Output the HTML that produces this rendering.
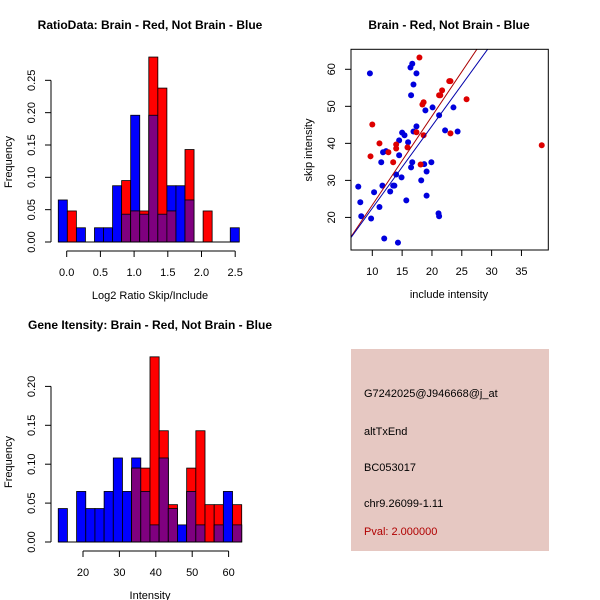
<!DOCTYPE html>
<html><head><meta charset="utf-8"><style>
body{margin:0;background:#fff}
svg{display:block;font-family:"Liberation Sans",sans-serif}
</style></head><body>
<svg id="s" width="600" height="600" viewBox="0 0 600 600">
<rect width="600" height="600" fill="#fff"/>
<rect x="351" y="349" width="198" height="202" fill="#e6c8c2"/>
<g font-size="11" fill="#000">
<text x="364" y="397">G7242025@J946668@j_at</text>
<text x="364" y="435">altTxEnd</text>
<text x="364" y="471">BC053017</text>
<text x="364" y="507">chr9.26099-1.11</text>
<text x="364" y="535" fill="#b00000">Pval: 2.000000</text>
</g>
</svg>
<script>
// Histogram 1: ratio data
const h1Start=-0.125, h1Width=0.1343;
const h1Blue=[0.065,0,0.022,0,0.022,0.022,0.087,0.043,0.196,0.043,0.196,0.043,0.087,0.087,0.065,0,0,0,0,0.022];
const h1Red=[0,0.048,0,0,0,0,0,0.095,0.048,0.048,0.286,0.238,0.048,0,0.143,0,0.048,0,0,0];
const h1XTicks=[0,0.5,1,1.5,2,2.5];
const h1XLabels=["0.0","0.5","1.0","1.5","2.0","2.5"];
const h1YTicks=[0,0.05,0.1,0.15,0.2,0.25];
const h1YLabels=["0.00","0.05","0.10","0.15","0.20","0.25"];
// Histogram 2: gene intensity
const h2Start=13.2, h2Width=2.52;
const h2Blue=[0.043,0,0.065,0.043,0.043,0.065,0.108,0.065,0.108,0.065,0.022,0.108,0.043,0.022,0.065,0.022,0,0.022,0.065,0.022];
const h2Red=[0,0,0,0,0,0,0,0,0.095,0.095,0.238,0.143,0.048,0,0.095,0.143,0.048,0.048,0,0.048];
const h2XTicks=[20,30,40,50,60];
const h2XLabels=["20","30","40","50","60"];
const h2YTicks=[0,0.05,0.1,0.15,0.2];
const h2YLabels=["0.00","0.05","0.10","0.15","0.20"];
// Scatter
const blueX=[7.65,7.99,8.15,9.6,9.8,10.3,11.2,11.5,11.7,11.8,12.3,12.0,13.0,13.5,13.7,14.0,14.3,14.5,14.5,14.9,15.0,15.4,15.7,16.0,16.4,16.7,16.5,16.5,16.7,16.9,16.9,17.4,17.4,18.2,18.7,18.9,19.1,19.1,19.9,20.1,21.1,21.2,21.2,22.2,23.6,24.3];
const blueY=[28.3,24.1,20.3,58.9,19.7,26.8,22.8,34.9,28.6,37.6,37.9,14.3,27.0,28.6,28.6,31.6,13.2,36.8,40.8,30.8,42.9,42.2,24.6,40.3,60.5,61.5,53.0,33.5,34.9,55.9,43.2,58.9,44.6,30.0,34.4,48.9,32.4,25.9,34.9,49.7,21.1,20.3,47.6,43.5,49.7,43.2];
const redX=[9.7,10.0,11.2,12.7,13.5,14.0,14.0,15.9,17.4,17.9,18.1,18.4,18.6,18.6,21.2,21.4,21.7,22.9,23.1,23.1,25.8,38.4];
const redY=[36.5,45.1,40.0,37.6,34.9,39.7,38.6,38.9,43.0,63.2,34.3,50.5,51.1,42.2,53.0,53.0,54.3,56.8,56.8,42.7,51.9,39.5];
const redLine=[-0.66,2.4];   // intercept, slope
const blueLine=[0.29,2.22];
const scXTicks=[10,15,20,25,30,35];
const scYTicks=[20,30,40,50,60];

const NS="http://www.w3.org/2000/svg";
const svg=document.getElementById('s');
function el(tag,attrs,parent){const e=document.createElementNS(NS,tag);for(const k in attrs)e.setAttribute(k,attrs[k]);(parent||svg).appendChild(e);return e;}
function txt(x,y,s,size,anchor,rot,parent,weight){const t=el('text',{x:x,y:y,'font-size':size,'text-anchor':anchor||'middle'},parent);if(rot)t.setAttribute('transform','rotate(-90 '+x+' '+y+')');if(weight)t.setAttribute('font-weight',weight);t.textContent=s;return t;}

function hist(o){
  const g=el('g',{});
  
  
  const sx=v=>o.x0+(v-o.v0)*o.kx, sy=v=>o.y0-v*o.ky;
  for(let i=0;i<o.blue.length;i++){
    const a=o.start+i*o.width,b=a+o.width;
    const x=sx(a),w=sx(b)-sx(a);
    const bl=o.blue[i],rd=o.red[i],mn=Math.min(bl,rd);
    if(bl>0){const r=el('rect',{x:x,y:sy(bl),width:w,height:sy(0)-sy(bl),fill:'#0000ff',stroke:'#000','stroke-width':0.8},g);
      
      }
    if(rd>0){const r=el('rect',{x:x,y:sy(rd),width:w,height:sy(0)-sy(rd),fill:'#ff0000',stroke:'#000','stroke-width':0.8},g);
      
      }
    if(mn>0){const r=el('rect',{x:x,y:sy(mn),width:w,height:sy(0)-sy(mn),fill:'#7f007f',stroke:'#000','stroke-width':0.8},g);
      
      }
  }
  el('line',{x1:sx(o.start),x2:sx(o.start+o.blue.length*o.width),y1:o.y0,y2:o.y0,stroke:'#000'},g);
  const xa=el('g',{},g);
  
  
  const xt=o.y0+9;
  el('line',{x1:sx(o.xt[0]),x2:sx(o.xt[o.xt.length-1]),y1:xt,y2:xt,stroke:'#000'},xa);
  o.xt.forEach((v,i)=>{el('line',{x1:sx(v),x2:sx(v),y1:xt,y2:xt+6,stroke:'#000'},xa);txt(sx(v),xt+25,o.xl[i],11,'middle',0,xa);});
  const ya=el('g',{},g);
  
  
  const yx=51;
  el('line',{x1:yx,x2:yx,y1:sy(o.yt[0]),y2:sy(o.yt[o.yt.length-1]),stroke:'#000'},ya);
  o.yt.forEach((v,i)=>{el('line',{x1:yx,x2:yx-6,y1:sy(v),y2:sy(v),stroke:'#000'},ya);txt(yx-16,sy(v),o.yl[i],11,'middle',1,ya);});
  const xl=txt(150,o.y0+57,o.xtitle,11,'middle',0,g);
  
  
  const yl=txt(12,o.y0-80,'Frequency',11,'middle',1,g);
  
  
  const tt=txt(150,o.ty,o.title,12,'middle',0,g,'bold');
  
  
}
hist({name:'ratio-histogram',start:h1Start,width:h1Width,blue:h1Blue,red:h1Red,x0:66.7,v0:0,kx:67.4,y0:242,ky:646.7,xt:h1XTicks,xl:h1XLabels,yt:h1YTicks,yl:h1YLabels,xtitle:'Log2 Ratio Skip/Include',title:'RatioData: Brain - Red, Not Brain - Blue',ty:29});
hist({name:'intensity-histogram',start:h2Start,width:h2Width,blue:h2Blue,red:h2Red,x0:83,v0:20,kx:3.64,y0:542,ky:778,xt:h2XTicks,xl:h2XLabels,yt:h2YTicks,yl:h2YLabels,xtitle:'Intensity',title:'Gene Itensity: Brain - Red, Not Brain - Blue',ty:329});

const sc=el('g',{});


const L=351,R=548.3,T=49.3,B=250,xmin=6.43,xmax=39.5,ymin=11.2,ymax=65.4;
const px=v=>L+(v-xmin)/(xmax-xmin)*(R-L), py=v=>B-(v-ymin)/(ymax-ymin)*(B-T);
const cp=el('clipPath',{id:'cp'},sc);el('rect',{x:L,y:T,width:R-L,height:B-T},cp);
blueX.forEach((v,i)=>{const c=el('circle',{cx:px(v),cy:py(blueY[i]),r:3,fill:'#0000dd'},sc);
  
  });
redX.forEach((v,i)=>{const c=el('circle',{cx:px(v),cy:py(redY[i]),r:3,fill:'#dd0000'},sc);
  
  });
[[redLine,'#aa0000','red-fit-line'],[blueLine,'#0000aa','blue-fit-line']].forEach(([c,col,n])=>{
  const l=el('line',{x1:px(xmin),y1:py(c[0]+c[1]*xmin),x2:px(xmax),y2:py(c[0]+c[1]*xmax),stroke:col,'stroke-width':1,'clip-path':'url(#cp)'},sc);
  
  });
el('rect',{x:L,y:T,width:R-L,height:B-T,fill:'none',stroke:'#000'},sc);
const sxa=el('g',{},sc);


scXTicks.forEach(v=>{el('line',{x1:px(v),x2:px(v),y1:B,y2:B+6,stroke:'#000'},sxa);txt(px(v),B+25,String(v),11,'middle',0,sxa);});
const sya=el('g',{},sc);


scYTicks.forEach(v=>{el('line',{x1:L,x2:L-6,y1:py(v),y2:py(v),stroke:'#000'},sya);txt(L-16,py(v),String(v),11,'middle',1,sya);});
const sxt=txt(449,298,'include intensity',11,'middle',0,sc);


const syt=txt(312,150,'skip intensity',11,'middle',1,sc);


const stt=txt(449,29,'Brain - Red, Not Brain - Blue',12,'middle',0,sc,'bold');


</script>
</body></html>
